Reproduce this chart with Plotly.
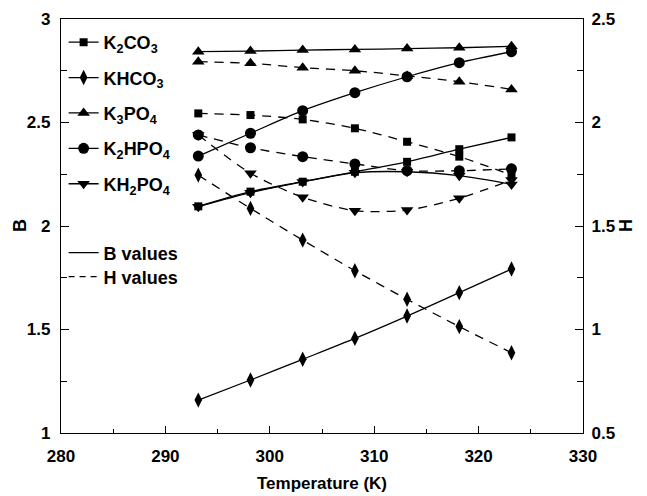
import plotly.graph_objects as go

# ---------------- data ----------------
T = [293.15, 298.15, 303.15, 308.15, 313.15, 318.15, 323.15]

B_K2CO3 = [2.095, 2.166, 2.214, 2.262, 2.310, 2.371, 2.428]
H_K2CO3 = [2.044, 2.036, 2.015, 1.972, 1.907, 1.835, 1.746]
B_KHCO3 = [1.159, 1.256, 1.356, 1.457, 1.565, 1.678, 1.792]
H_KHCO3 = [1.746, 1.585, 1.432, 1.284, 1.146, 1.014, 0.888]
B_K3PO4 = [2.842, 2.845, 2.850, 2.853, 2.857, 2.861, 2.868]
H_K3PO4 = [2.294, 2.286, 2.265, 2.250, 2.225, 2.197, 2.160]
B_K2HPO4 = [2.338, 2.448, 2.557, 2.644, 2.721, 2.789, 2.842]
H_K2HPO4 = [1.940, 1.878, 1.835, 1.800, 1.767, 1.767, 1.776]
B_KH2PO4 = [2.093, 2.161, 2.213, 2.257, 2.262, 2.243, 2.201]
H_KH2PO4 = [1.940, 1.755, 1.639, 1.574, 1.577, 1.634, 1.722]

salt_names = ["K<sub>2</sub>CO<sub>3</sub>", "KHCO<sub>3</sub>", "K<sub>3</sub>PO<sub>4</sub>",
              "K<sub>2</sub>HPO<sub>4</sub>", "KH<sub>2</sub>PO<sub>4</sub>"]
B_series = [B_K2CO3, B_KHCO3, B_K3PO4, B_K2HPO4, B_KH2PO4]
H_series = [H_K2CO3, H_KHCO3, H_K3PO4, H_K2HPO4, H_KH2PO4]

x_ticks = [280, 290, 300, 310, 320, 330]
B_ticks = [1, 1.5, 2, 2.5, 3]
H_ticks = [0.5, 1, 1.5, 2, 2.5]

# ---------------- styles ----------------
symbols = ["square", "diamond-tall", "triangle-up", "circle", "triangle-down"]
sizes = [8, 11, 11, 11, 11]
FONT = "Liberation Sans"
LW = 1.3
DASH = "9px,7px"

fig = go.Figure()
for i, name in enumerate(salt_names):
    fig.add_trace(go.Scatter(
        x=T, y=B_series[i], name="<b>" + name + "</b>", mode="lines+markers",
        line=dict(color="black", width=LW, shape="spline", smoothing=0.8),
        marker=dict(symbol=symbols[i], size=sizes[i], color="black"),
        legendgroup=f"g{i}", legend="legend", yaxis="y"))
    fig.add_trace(go.Scatter(
        x=T, y=H_series[i], name=name, mode="lines+markers", showlegend=False,
        line=dict(color="black", width=LW, dash=DASH, shape="spline", smoothing=0.8),
        marker=dict(symbol=symbols[i], size=sizes[i], color="black"),
        legendgroup=f"g{i}", yaxis="y2"))

fig.add_trace(go.Scatter(x=[None], y=[None], name="<b>B values</b>", mode="lines",
                         line=dict(color="black", width=LW), legend="legend2"))
fig.add_trace(go.Scatter(x=[None], y=[None], name="<b>H values</b>", mode="lines",
                         line=dict(color="black", width=LW, dash="6px,5px"), legend="legend3"))

tickfont = dict(family=FONT, size=17, color="black", weight="bold")
legfont = dict(family=FONT, size=18, color="black", weight="bold")
titlefont = dict(family=FONT, size=17, color="black", weight="bold")

fig.update_layout(
    width=647, height=496,
    margin=dict(l=61, r=64, t=19, b=63, autoexpand=False),
    paper_bgcolor="white", plot_bgcolor="white",
    xaxis=dict(range=[280, 330], tickvals=x_ticks, ticks="inside", ticklen=7,
               tickwidth=1, tickcolor="black", showline=True, linecolor="black",
               linewidth=1.3, mirror=True, showgrid=False, zeroline=False,
               tickfont=tickfont, ticklabelstandoff=7, automargin=False,
               minor=dict(dtick=5, ticks="inside", ticklen=4, tickcolor="black", showgrid=False),
               title=dict(text="<b>Temperature (K)</b>", font=titlefont, standoff=12)),
    yaxis=dict(range=[1, 3], tickvals=B_ticks, ticks="inside", ticklen=8,
               tickwidth=1, tickcolor="black", showline=True, linecolor="black",
               linewidth=1.3, showgrid=False, zeroline=False, tickfont=tickfont,
               ticklabelstandoff=6, automargin=False,
               minor=dict(dtick=0.25, ticks="inside", ticklen=6, tickcolor="black", showgrid=False)),
    yaxis2=dict(range=[0.5, 2.5], tickvals=H_ticks, ticks="inside", ticklen=8,
                tickwidth=1, tickcolor="black", showline=True, linecolor="black",
                linewidth=1.3, showgrid=False, zeroline=False, tickfont=tickfont,
                overlaying="y", side="right", ticklabelstandoff=4, automargin=False,
                minor=dict(dtick=0.25, ticks="inside", ticklen=6, tickcolor="black", showgrid=False)),
    legend=dict(x=0.005, y=0.988, xanchor="left", yanchor="top", font=legfont,
                bgcolor="rgba(0,0,0,0)", traceorder="grouped", tracegroupgap=9,
                itemwidth=30),
    legend2=dict(x=0.005, y=0.4348, xanchor="left", yanchor="middle", font=legfont,
                 bgcolor="rgba(0,0,0,0)"),
    legend3=dict(x=0.005, y=0.3768, xanchor="left", yanchor="middle", font=legfont,
                 bgcolor="rgba(0,0,0,0)"),
    annotations=[
        dict(text="<b>B</b>", xref="paper", yref="paper", x=-0.0785, y=0.5,
             xanchor="center", yanchor="middle", textangle=-90, showarrow=False,
             font=dict(family=FONT, size=18, color="black", weight="bold")),
        dict(text="<b>H</b>", xref="paper", yref="paper", x=1.0824, y=0.5,
             xanchor="center", yanchor="middle", textangle=-90, showarrow=False,
             font=dict(family=FONT, size=18, color="black", weight="bold")),
    ],
)

fig.write_html("out.html")
